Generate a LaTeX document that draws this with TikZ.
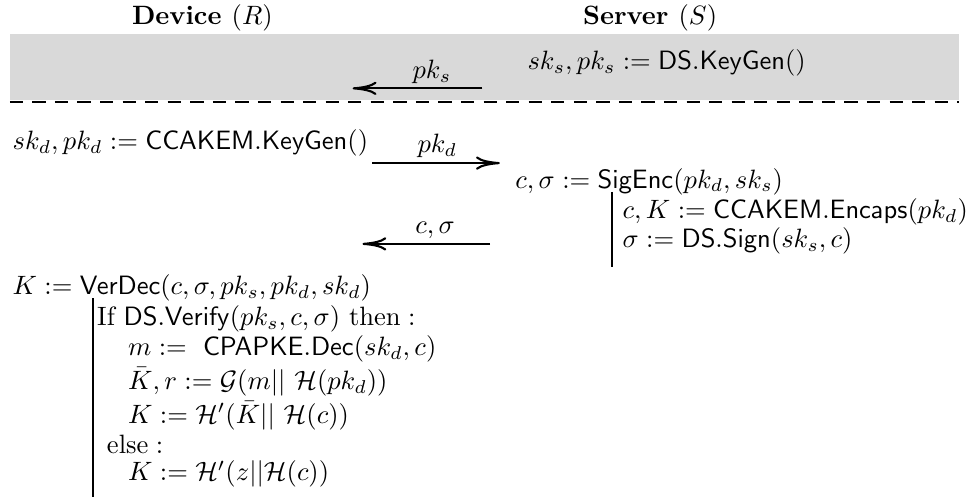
\documentclass[tikz,border=0pt]{standalone}
\usepackage{amsmath}
\usepackage{amsfonts}
\usepackage{amssymb}
\usepackage{tikz}
\usetikzlibrary{arrows.meta}
\tikzset{
  paso/.style={anchor=base west, inner sep=0pt},
  msg/.style={-{To[length=9pt,width=5pt]}, thick},
  etiq/.style={above, inner sep=1.5pt},
  titulo/.style={font=\bfseries, anchor=base, inner sep=0pt}
}

\begin{document}
\begin{tikzpicture}
	\useasboundingbox (0,0) rectangle (12.82,-6.58);

	%Fase de registro (fondo gris)
	\fill[color=gray!30] (0.13,-0.45) rectangle (12.70,-1.33);
	\draw[thick, dash pattern=on 5pt off 3.5pt] (0.13,-1.35) -- (12.70,-1.35);

	%Titulos de las partes
	\node[titulo] (dev) at (2.68,-0.32) {Device $(R)$};
	\node[titulo] (serv) at (8.61,-0.32) {Server $(S)$};

	%Claves del servidor
	\node[paso] (kgs) at (6.98,-0.92) {$sk_s, pk_s := \mathsf{DS.KeyGen}()$};
	\coordinate (pks1) at (6.39,-1.17);
	\coordinate (pks2) at (4.67,-1.17);
	\draw[msg] (pks1) -- node[etiq, pos=0.39] {$pk_s$} (pks2);

	%Claves del dispositivo
	\node[paso] (kgd) at (0.16,-1.98) {$sk_d, pk_d := \mathsf{CCAKEM.KeyGen}()$};
	\coordinate (pkd1) at (4.93,-2.16);
	\coordinate (pkd2) at (6.62,-2.16);
	\draw[msg] (pkd1) -- node[etiq, pos=0.51] {$pk_d$} (pkd2);

	%SigEnc en el servidor
	\node[paso] (sigenc) at (6.82,-2.49) {$c, \sigma := \mathsf{SigEnc}(pk_d, sk_s)$};
	\node[paso] (encaps) at (8.24,-2.89) {$c, K := \mathsf{CCAKEM.Encaps}(pk_d)$};
	\node[paso] (sign) at (8.24,-3.28) {$\sigma := \mathsf{DS.Sign}(sk_s, c)$};
	\coordinate (b1) at (8.11,-2.54);
	\coordinate (b2) at (8.11,-3.54);
	\draw[thick] (b1) -- (b2);

	%Respuesta c, sigma
	\coordinate (cs1) at (6.49,-3.23);
	\coordinate (cs2) at (4.80,-3.23);
	\draw[msg] (cs1) -- node[etiq, pos=0.43] {$c, \sigma$} (cs2);

	%VerDec en el dispositivo
	\node[paso] (verdec) at (0.16,-3.90) {$K := \mathsf{VerDec}(c, \sigma, pk_s, pk_d, sk_d)$};
	\node[paso] (ifl) at (1.28,-4.31) {If $\mathsf{DS.Verify}(pk_s, c, \sigma)\ \text{then}:$};
	\node[paso] (decl) at (1.69,-4.71) {$m :=\ \mathsf{CPAPKE.Dec}(sk_d, c)$};
	\node[paso] (gl) at (1.69,-5.16) {$\bar{K}, r := \mathcal{G}(m||\ \mathcal{H}(pk_d))$};
	\node[paso] (kl) at (1.69,-5.61) {$K := \mathcal{H}'(\bar{K}||\ \mathcal{H}(c))$};
	\node[paso] (elsel) at (1.41,-6.00) {$\text{else}:$};
	\node[paso] (zl) at (1.69,-6.37) {$K := \mathcal{H}'(z||\mathcal{H}(c))$};
	\coordinate (v1) at (1.23,-3.95);
	\coordinate (v2) at (1.23,-6.58);
	\draw[thick] (v1) -- (v2);
\end{tikzpicture}
\end{document}
